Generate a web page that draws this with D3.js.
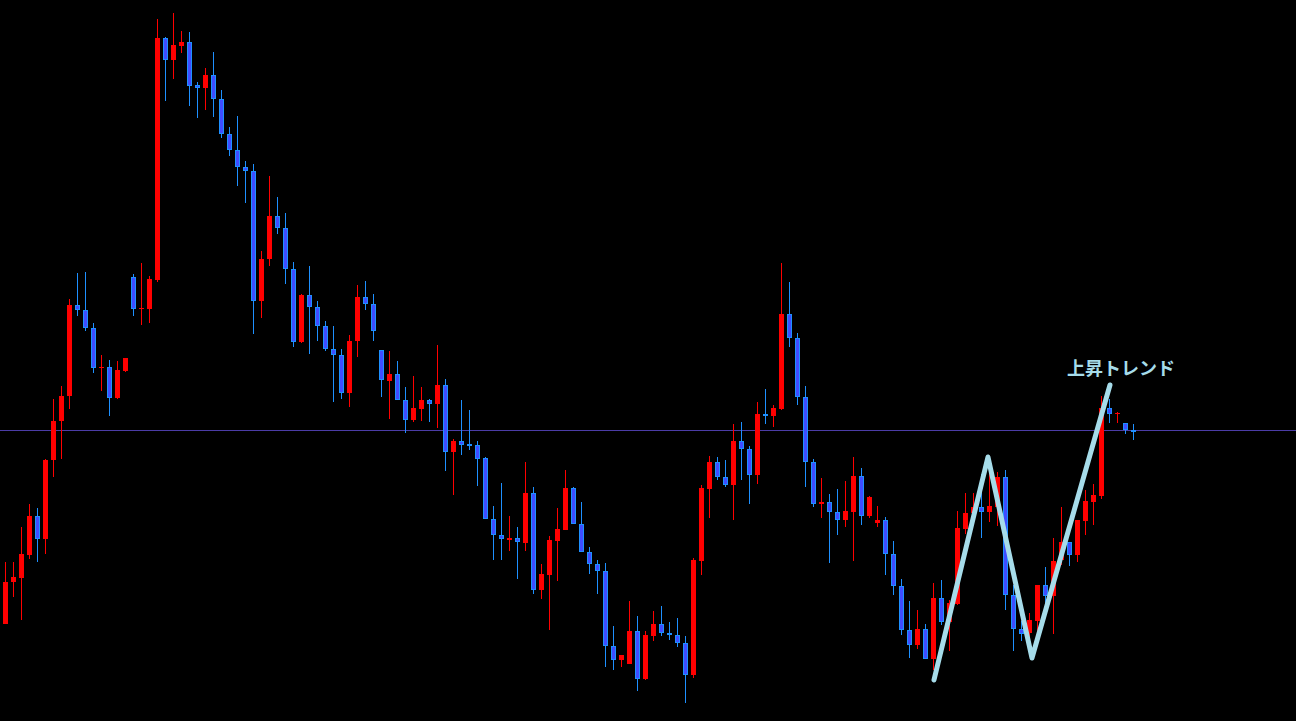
<!DOCTYPE html>
<html><head><meta charset="utf-8">
<script src="https://cdn.jsdelivr.net/npm/d3@7"></script>
<style>html,body{margin:0;padding:0;background:#000;overflow:hidden}</style>
</head>
<body>
<svg id="chart" width="1296" height="721"></svg>
<script>
const opens = [143.76,144.18,144.22,144.45,144.84,144.61,145.40,145.79,146.04,146.95,
146.90,146.72,146.32,146.33,146.02,146.29,147.23,146.91,146.91,147.20,
149.62,149.40,149.54,149.58,149.15,149.12,149.25,149.01,148.66,148.50,
148.33,148.29,146.99,147.41,147.84,147.72,147.31,146.58,147.05,146.93,
146.74,146.51,146.45,146.07,146.59,147.03,146.96,146.50,146.19,146.26,
146.00,145.80,145.91,146.00,145.96,146.15,145.48,145.59,145.56,145.55,
145.42,144.81,144.65,144.60,144.62,144.57,145.07,144.10,144.25,144.59,
144.70,145.12,144.76,144.48,144.36,144.29,143.54,143.40,143.36,143.69,
143.21,143.64,143.76,143.67,143.65,143.57,143.25,144.39,145.11,145.38,
145.23,145.15,145.59,145.51,145.25,145.86,145.84,145.91,146.86,146.62,
146.03,145.38,144.96,144.98,144.88,144.80,144.88,145.24,144.84,144.77,
144.80,144.46,144.14,143.70,143.55,143.71,143.41,144.02,143.78,143.96,
144.71,144.87,144.93,144.88,144.93,145.23,144.05,143.71,143.67,143.79,
144.15,144.04,144.40,144.58,144.45,144.79,144.98,145.04,145.92,145.86,
145.77,145.70];
const highs = [144.38,144.38,144.73,144.96,144.92,145.41,146.01,146.14,147.01,147.27,
147.28,146.77,146.45,146.40,146.39,146.42,147.26,147.37,147.24,149.81,
149.63,149.87,149.69,149.68,149.18,149.32,149.48,149.10,148.73,148.84,
148.39,148.36,147.49,148.24,148.03,147.87,147.38,147.06,147.34,146.99,
146.79,146.74,146.51,146.65,147.15,147.19,147.06,146.50,146.49,146.39,
146.13,146.24,146.13,146.01,146.55,146.21,145.61,146.00,145.90,145.59,
145.43,144.94,145.17,144.84,144.73,145.38,145.13,144.36,144.64,144.92,
145.30,145.13,144.98,144.53,144.40,144.37,143.74,143.45,143.99,143.84,
143.69,143.89,143.94,143.78,143.82,143.64,144.42,145.15,145.44,145.43,
145.40,145.76,145.78,145.54,145.98,146.11,145.95,147.37,147.18,146.67,
146.14,145.41,145.22,145.06,145.11,145.19,145.43,145.32,145.04,144.94,
144.83,144.59,144.21,143.99,143.90,143.76,144.17,144.20,144.00,144.89,
145.07,145.07,145.26,145.27,145.28,145.30,144.15,143.79,143.87,144.15,
144.33,144.62,144.93,144.58,144.80,145.10,145.16,146.04,146.01,145.88,
145.77,145.76];
const lows = [143.76,144.03,143.80,144.41,144.38,144.46,145.23,145.41,145.91,146.84,
146.69,146.27,146.09,145.84,146.01,146.28,146.84,146.75,146.77,147.18,
148.99,149.21,149.47,148.94,148.82,148.90,148.83,148.62,148.44,148.14,
147.97,146.66,146.82,147.34,147.66,147.16,146.53,146.57,146.46,146.59,
146.49,145.98,146.01,145.93,146.43,146.90,146.59,146.03,145.81,146.00,
145.67,145.78,145.79,145.78,145.72,145.29,145.05,145.45,145.50,145.14,
144.81,144.40,144.40,144.49,144.21,144.49,144.06,144.01,143.70,144.19,
144.70,144.76,144.48,144.26,144.06,143.33,143.30,143.33,143.36,143.09,
143.20,143.59,143.64,143.60,143.53,142.97,143.22,144.25,144.82,145.20,
145.13,144.80,145.20,144.96,145.16,145.76,145.73,145.90,146.53,145.95,
145.13,144.93,144.82,144.37,144.65,144.73,144.39,144.75,144.82,144.73,
144.25,144.05,143.65,143.42,143.51,143.41,143.30,143.75,143.49,143.95,
144.66,144.85,144.62,144.78,144.74,143.90,143.49,143.59,143.58,143.62,
143.94,143.66,144.35,144.34,144.38,144.65,144.75,145.01,145.77,145.77,
145.66,145.60];
const closes = [144.18,144.23,144.46,144.84,144.61,145.40,145.79,146.04,146.95,146.90,
146.72,146.32,146.33,146.02,146.30,146.42,146.91,146.92,147.21,149.62,
149.40,149.55,149.58,149.14,149.12,149.25,149.01,148.66,148.50,148.33,
148.29,146.99,147.41,147.84,147.72,147.31,146.58,147.05,146.93,146.74,
146.51,146.45,146.07,146.59,147.03,146.96,146.69,146.20,146.26,146.00,
145.80,145.92,146.00,145.96,146.15,145.48,145.59,145.55,145.54,145.41,
144.81,144.65,144.61,144.62,144.58,145.07,144.10,144.26,144.60,144.71,
145.12,144.76,144.48,144.36,144.29,143.54,143.40,143.45,143.69,143.21,
143.65,143.76,143.67,143.65,143.57,143.25,144.40,145.12,145.38,145.23,
145.15,145.59,145.51,145.25,145.86,145.84,145.92,146.86,146.62,146.03,
145.38,144.96,144.98,144.88,144.80,144.89,145.24,144.84,145.03,144.80,
144.46,144.14,143.70,143.55,143.71,143.41,144.02,143.78,143.97,144.72,
144.87,144.93,144.88,144.94,145.23,144.05,143.71,143.66,143.80,144.15,
144.04,144.39,144.58,144.45,144.80,144.99,145.05,145.92,145.86,145.87,
145.70,145.69];

const levelPrice = 145.695;
const trendIdx = [116.06, 122.81, 128.31, 138.06];
const trendPrice = [143.20, 145.43, 143.42, 146.15];
const labelText = "上昇トレンド";

const W = 1296, H = 721;
const n = opens.length;
const svg = d3.select("#chart");
svg.append("rect").attr("width", W).attr("height", H).attr("fill", "#000");

const x = d3.scaleLinear().domain([0, n - 1]).range([5.5, 5.5 + 8 * (n - 1)]);
const y = d3.scaleLinear().domain([150, 142.79]).range([0, 721]);

const UP = "#ff0000", DN_FILL = "#3f4cff", DN_EDGE = "#1e90ff";

// level line
svg.append("line")
  .attr("x1", 0).attr("x2", W)
  .attr("y1", Math.floor(y(levelPrice)) + 0.5).attr("y2", Math.floor(y(levelPrice)) + 0.5)
  .attr("stroke", "#4b3ca6").attr("stroke-width", 1);

const data = d3.range(n).map(i => ({i, o: opens[i], h: highs[i], l: lows[i], c: closes[i]}));
const g = svg.append("g");
const cand = g.selectAll("g.c").data(data).join("g").attr("class", "c");

cand.append("line")
  .attr("x1", d => x(d.i)).attr("x2", d => x(d.i))
  .attr("y1", d => Math.round(y(d.h))).attr("y2", d => Math.round(y(d.l)))
  .attr("stroke", d => d.c >= d.o ? UP : DN_EDGE).attr("stroke-width", 1);

cand.each(function(d) {
  const top = Math.round(y(Math.max(d.o, d.c)));
  const bot = Math.round(y(Math.min(d.o, d.c)));
  const hgt = Math.max(1, bot - top);
  const sel = d3.select(this);
  if (d.c >= d.o) {
    sel.append("rect").attr("x", x(d.i) - 2.5).attr("y", top)
      .attr("width", 5).attr("height", hgt).attr("fill", UP);
  } else {
    if (hgt <= 2) {
      sel.append("rect").attr("x", x(d.i) - 2.5).attr("y", top)
        .attr("width", 5).attr("height", Math.max(2, hgt)).attr("fill", DN_EDGE);
    } else {
      sel.append("rect").attr("x", x(d.i) - 2).attr("y", top + 0.5)
        .attr("width", 4).attr("height", hgt - 1)
        .attr("fill", DN_FILL).attr("stroke", DN_EDGE).attr("stroke-width", 1);
    }
  }
});

// trend line
const pts = trendIdx.map((t, k) => [x(t), y(trendPrice[k])]);
svg.append("path")
  .attr("d", d3.line()(pts))
  .attr("fill", "none").attr("stroke", "#a6dcea")
  .attr("stroke-width", 5).attr("stroke-linejoin", "round").attr("stroke-linecap", "round");

svg.append("text")
  .attr("x", pts[3][0] + 11).attr("y", pts[3][1] - 10)
  .attr("text-anchor", "middle")
  .attr("font-family", "'Noto Sans CJK JP', sans-serif")
  .attr("font-weight", "bold").attr("font-size", 18)
  .attr("fill", "#a6dcea")
  .text(labelText);
</script>
</body></html>
